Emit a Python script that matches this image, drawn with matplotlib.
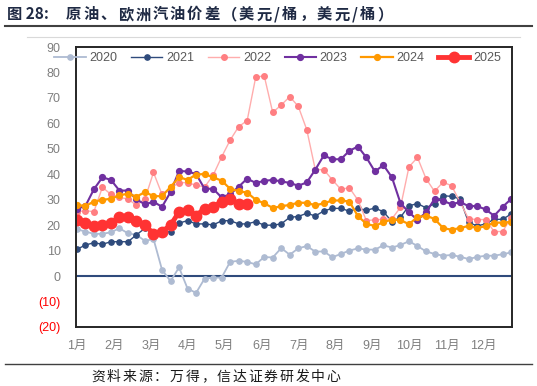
import matplotlib
matplotlib.use('Agg')
import matplotlib.pyplot as plt
from matplotlib.lines import Line2D
import numpy as np

plt.rcParams['font.family'] = ['Liberation Sans', 'Noto Sans CJK SC', 'DejaVu Sans']

# 周度数据（美元/桶），每年52周
years = ['2020', '2021', '2022', '2023', '2024', '2025']

y2020 = [18.4, 17.5, 16.6, 16.6, 17.2, 18.8, 16.8, 16.2, 13.8, 14.6,
         2.5, -2.0, 3.4, -4.9, -6.6, -1.0, -0.6, -0.6, 5.6, 6.0,
         5.6, 4.6, 7.5, 7.3, 11.0, 8.4, 10.9, 11.8, 9.6, 9.7,
         7.4, 8.7, 10.0, 10.9, 10.4, 10.4, 12.1, 11.2, 12.2, 13.7,
         11.8, 9.7, 8.7, 8.0, 8.3, 7.6, 6.7, 7.5, 8.0, 8.0,
         8.6, 9.3]
y2021 = [10.5, 12.2, 13.1, 12.5, 13.5, 13.5, 13.5, 16.2, 18.8, 17.4,
         18.0, 17.2, 20.8, 21.8, 20.5, 20.5, 20.1, 21.7, 21.8, 20.5,
         20.5, 21.4, 20.0, 20.0, 20.5, 23.1, 23.4, 24.7, 23.6, 25.6,
         26.6, 26.6, 25.5, 26.6, 25.9, 26.7, 25.3, 21.4, 23.1, 27.6,
         28.5, 26.8, 28.4, 31.6, 31.3, 30.3, 21.1, 19.7, 20.5, 22.3,
         22.3, 24.4]
y2022 = [25.2, 25.7, 25.3, 34.9, 32.1, 30.9, 30.3, 27.8, 30.4, 40.7,
         32.1, 34.5, 36.7, 36.7, 35.7, 35.0, 39.6, 46.8, 53.4, 58.7,
         61.1, 78.1, 78.7, 64.3, 67.2, 70.5, 66.7, 57.5, 41.8, 41.8,
         37.8, 34.1, 34.7, 29.9, 21.8, 22.1, 22.3, 22.5, 27.0, 42.9,
         46.6, 38.3, 33.3, 36.9, 35.5, 29.1, 22.5, 22.2, 22.2, 17.5,
         17.5, 23.0]
y2023 = [26.5, 27.5, 34.1, 38.8, 37.8, 33.6, 33.6, 30.1, 28.2, 29.2,
         27.2, 33.0, 41.3, 41.1, 40.1, 34.3, 34.3, 30.9, 32.2, 35.1,
         38.3, 36.6, 37.4, 37.8, 37.2, 36.6, 35.5, 36.8, 41.8, 47.4,
         45.9, 45.9, 49.2, 50.9, 46.6, 41.1, 43.6, 38.8, 28.7, 25.0,
         22.1, 25.0, 30.3, 29.6, 28.2, 29.1, 27.5, 27.5, 26.2, 23.7,
         27.2, 30.3]
y2024 = [28.0, 27.5, 29.3, 29.9, 30.4, 31.7, 32.4, 31.2, 33.0, 31.4,
         31.4, 35.0, 38.9, 37.8, 39.9, 40.1, 38.8, 37.5, 34.3, 33.4,
         32.8, 30.0, 28.6, 26.8, 27.4, 28.0, 28.8, 28.8, 27.8, 28.6,
         29.7, 29.7, 29.3, 23.6, 20.5, 19.7, 21.2, 22.2, 22.0, 20.4,
         23.2, 23.7, 22.5, 18.9, 18.2, 18.9, 19.7, 18.9, 19.6, 21.0,
         21.0, 21.3]
y2025 = [22.0, 20.8, 19.5, 20.0, 20.8, 23.3, 23.1, 21.7, 20.2, 16.5,
         17.5, 20.0, 25.2, 25.9, 23.8, 26.5, 27.3, 29.2, 30.1, 28.5,
         28.5]

months = ['1月', '2月', '3月', '4月', '5月', '6月', '7月', '8月', '9月', '10月', '11月', '12月']

series = [y2020, y2021, y2022, y2023, y2024, y2025]
line_colors = ['#AEBBD2', '#2F4B7C', '#FFADAD', '#7030A0', '#FF9900', '#FF3333']
mk_colors = ['#AEBBD2', '#2F4B7C', '#FF7F82', '#7030A0', '#FF9900', '#FF3333']
widths = [1.3, 1.0, 1.0, 1.5, 1.6, 3.5]
msizes = [3.8, 3.8, 4.0, 4.2, 4.2, 7.5]

W, H = 537, 386
fig = plt.figure(figsize=(W / 100, H / 100), dpi=100)
ax = fig.add_axes([76 / W, 1 - 327 / H, 436 / W, 280 / H])

for name, vals, lc, mc, lw, ms in zip(years, series, line_colors, mk_colors, widths, msizes):
    ax.plot(np.arange(len(vals)), vals, color=lc, lw=lw, marker='o', ms=ms,
            markerfacecolor=mc, markeredgecolor=mc, label=name)

ax.axhline(0, color='#2F4B7C', lw=1.5, zorder=1)

ax.set_xlim(-0.1, 51.1)
ax.set_ylim(-20, 90)

ax.set_xticks(np.arange(12) * 4.34)
ax.set_xticklabels(months)
yt = list(range(-20, 91, 10))
ax.set_yticks(yt)
ax.set_yticklabels([f'({-v})' if v < 0 else str(v) for v in yt])
for lab, v in zip(ax.get_yticklabels(), yt):
    lab.set_color('#FF0000' if v < 0 else '#7F7F7F')
for lab in ax.get_xticklabels():
    lab.set_color('#7F7F7F')
ax.tick_params(axis='both', length=0, labelsize=9)
ax.tick_params(axis='x', pad=9)
ax.tick_params(axis='y', pad=11)

for s in ax.spines.values():
    s.set_color('#262626')
    s.set_linewidth(1.4)

fig.legend(loc='center', bbox_to_anchor=(0.517, 0.85), ncol=6, frameon=False,
           fontsize=9, handlelength=2.5, handletextpad=0.3, columnspacing=1.1,
           labelcolor='#595959')


# 逐字排版（原图字距较宽）
def spaced(x_px, y, s, adv, **kw):
    x = x_px
    for ch in s:
        fig.text(x / W, y, ch, va='center', ha='left', **kw)
        x += adv * (0.5 if ch in '/:' else 1)


cjk = ['Noto Sans CJK SC', 'DejaVu Sans']
fig.text(7 / W, 0.963, '图 28:', fontsize=11, fontweight='bold', color='#1F2A44',
         va='center', family=cjk)
spaced(66, 0.963, '原油、欧洲汽油价差（美元/桶，美元/桶）', 17.3,
       fontsize=11, fontweight='bold', color='#1F2A44', family=cjk)

fig.add_artist(Line2D([0.01, 0.99], [0.933, 0.933], color='#404040', lw=1.5))
fig.add_artist(Line2D([0.05, 0.968], [0.904, 0.904], color='#D9D9D9', lw=0.8))
fig.add_artist(Line2D([0.01, 0.99], [0.057, 0.057], color='#404040', lw=1.0))

spaced(91, 0.024, '资料来源：万得，信达证券研发中心', 15.7,
       fontsize=10, color='#1a1a1a', family=cjk)

plt.savefig('out.png', dpi=100)
plt.close()
